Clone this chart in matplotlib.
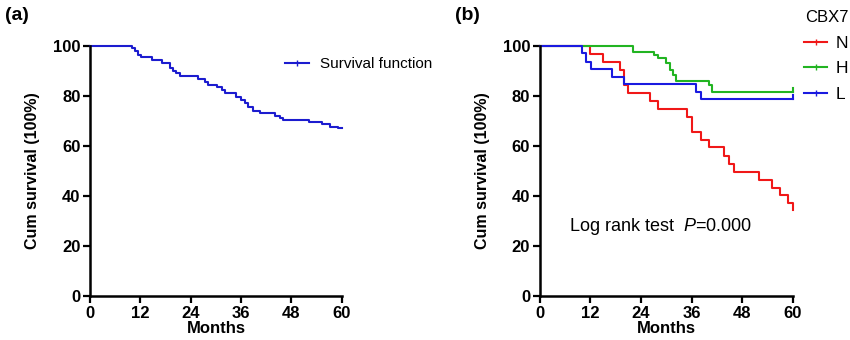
import matplotlib
matplotlib.use("Agg")
import matplotlib.pyplot as plt
from matplotlib.lines import Line2D

plt.rcParams['font.family'] = ['Liberation Sans', 'DejaVu Sans']
plt.rcParams['mathtext.fontset'] = 'custom'
plt.rcParams['mathtext.it'] = 'Liberation Sans:italic'
plt.rcParams['mathtext.rm'] = 'Liberation Sans'

# panel (a): overall survival, step times (months) and survival (%)
all_t = [0, 9.9, 10.7, 11.5, 12.1, 14.7, 17.1, 19.0, 19.8, 20.6, 21.4, 25.8, 27.4,
         28.2, 30.2, 31.4, 32.1, 34.9, 36.1, 36.9, 37.7, 38.9, 40.5, 44.0, 45.2,
         46.0, 52.2, 55.2, 57.1, 59.1, 60]
all_s = [100, 99.1, 98.0, 96.4, 95.5, 94.4, 93.3, 91.1, 90.0, 89.1, 88.0, 86.8,
         85.5, 84.4, 83.5, 82.4, 81.1, 79.7, 78.4, 77.1, 75.5, 74.1, 73.1, 72.0,
         71.2, 70.4, 69.6, 68.8, 67.7, 67.2, 67.2]

# panel (b): CBX7 groups
n_t = [0, 12.0, 15.0, 19.0, 20.0, 21.0, 26.0, 28.1, 34.9, 36.1, 38.1, 40.0, 43.7,
       44.9, 45.9, 52.0, 54.9, 56.9, 58.9, 60]
n_s = [100, 96.8, 93.5, 90.4, 84.4, 81.3, 78.1, 74.8, 71.7, 65.7, 62.4, 59.5, 56.0,
       53.0, 49.7, 46.3, 43.3, 40.4, 37.3, 34.3]
h_t = [0, 22.0, 27.0, 27.9, 30.0, 30.8, 31.6, 32.2, 40.0, 40.9, 60]
h_s = [100, 97.7, 96.4, 95.1, 93.1, 90.4, 88.4, 86.1, 84.4, 81.5, 81.5]
l_t = [0, 9.9, 10.9, 12.1, 17.0, 20.0, 37.0, 38.1, 60]
l_s = [100, 97.1, 93.7, 90.8, 87.7, 84.7, 81.7, 78.8, 78.8]

months = [0, 12, 24, 36, 48, 60]
pcts = [0, 20, 40, 60, 80, 100]


def style_axes(ax):
    ax.set_xlim(0, 60)
    ax.set_ylim(0, 100)
    ax.set_xticks(months)
    ax.set_yticks(pcts)
    for s in ['top', 'right']:
        ax.spines[s].set_visible(False)
    for s in ['left', 'bottom']:
        ax.spines[s].set_linewidth(1.8)
    ax.tick_params(direction='out', length=5, width=1.6, labelsize=12, pad=2)
    for lab in ax.get_xticklabels() + ax.get_yticklabels():
        lab.set_fontweight('bold')
    ax.set_xlabel('Months', fontsize=12, fontweight='bold', labelpad=0)
    ax.set_ylabel('Cum survival (100%)', fontsize=11.5, fontweight='bold', labelpad=9)


fig = plt.figure(figsize=(8.5, 3.4), dpi=100)
ax1 = fig.add_axes([0.106, 0.129, 0.296, 0.736])
ax2 = fig.add_axes([0.635, 0.129, 0.298, 0.736])

blue_a = '#1c1ccf'
ax1.step(all_t, all_s, where='post', color=blue_a, lw=1.5, clip_on=False)
style_axes(ax1)
h1 = Line2D([], [], color=blue_a, lw=1.5, marker='|', markersize=5)
ax1.legend([h1], ['Survival function'], loc='upper left', bbox_to_anchor=(0.72, 1.01),
           frameon=False, fontsize=11, handlelength=1.6, handletextpad=0.7)

red, green, blue = '#f01818', '#22b422', '#1a1ae0'
ax2.step(n_t, n_s, where='post', color=red, lw=1.5, clip_on=False)
ax2.step(h_t, h_s, where='post', color=green, lw=1.5, clip_on=False)
ax2.step(l_t, l_s, where='post', color=blue, lw=1.5, clip_on=False)
for t, s, c in [(h_t, h_s, green), (l_t, l_s, blue)]:
    ax2.plot([t[-1], t[-1]], [s[-1], s[-1] + 1.5], color=c, lw=1.5, clip_on=False)
style_axes(ax2)
ax2.text(7, 28, r'Log rank test  $\it{P}$=0.000', fontsize=13, va='center', ha='left')

handles = [Line2D([], [], color=c, lw=1.5, marker='|', markersize=5) for c in [red, green, blue]]
leg = fig.legend(handles, ['N', 'H', 'L'], title='CBX7', loc='upper right',
                 bbox_to_anchor=(1.006, 0.99), frameon=False, fontsize=12.5,
                 title_fontsize=12, handlelength=1.3, handletextpad=0.5,
                 labelspacing=0.6, borderaxespad=0.2, borderpad=0.2)
leg._legend_box.align = 'right'

fig.text(0.006, 0.955, '(a)', fontsize=14, fontweight='bold', va='center')
fig.text(0.535, 0.955, '(b)', fontsize=14, fontweight='bold', va='center')

fig.savefig('out.png', dpi=100)
